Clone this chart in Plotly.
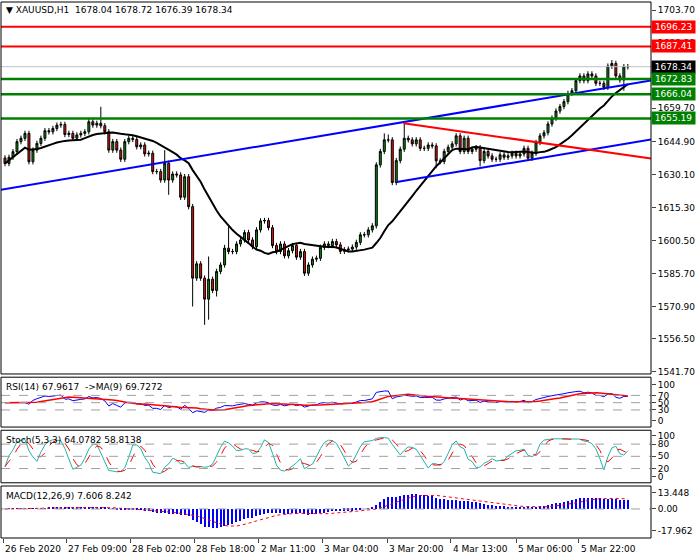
import plotly.graph_objects as go
import pandas as pd
import numpy as np

closes = [
1635.0,1637.8,1640.3,1644.8,1646.3,1648.5,1635.8,1641.0,1644.0,1646.3,
1649.7,1649.2,1650.7,1652.2,1652.5,1648.0,1648.5,1646.3,1647.8,1648.5,
1649.2,1653.7,1652.2,1653.0,1651.9,1649.2,1641.0,1644.8,1641.0,1636.9,
1644.8,1646.3,1645.8,1642.5,1643.3,1639.3,1639.6,1631.4,1631.4,1627.6,
1635.1,1627.6,1630.3,1629.9,1619.9,1629.1,1615.7,1583.7,1590.1,1583.7,
1574.3,1583.2,1578.2,1586.7,1589.6,1597.1,1595.6,1595.6,1599.0,1600.8,
1604.1,1600.8,1597.8,1605.3,1609.3,1609.5,1606.3,1598.3,1595.6,1599.0,
1593.7,1596.0,1598.3,1593.1,1595.6,1585.9,1589.6,1592.2,1592.6,1597.5,
1599.0,1598.3,
1600.1,1598.6,1595.7,1596.4,1596.7,1597.6,1599.7,1603.1,1603.1,1605.3,
1607.1,1634.4,1640.4,1645.6,1645.6,1626.5,1636.3,1641.4,1646.3,1645.6,
1643.8,1645.6,1641.8,1641.8,1643.3,1642.9,1636.2,1635.9,1640.4,1642.3,
1643.8,1647.4,1640.4,1646.3,1640.4,1641.4,1642.1,1636.3,1640.4,1638.4,
1636.9,1636.9,1638.9,1637.8,1638.4,1639.6,1638.4,1639.3,1641.8,1637.4,
1639.6,1644.4,1647.4,1648.8,1652.7,1655.3,1658.5,1660.5,1662.7,1666.4,
1667.6,1672.1,1674.2,1672.1,1675.1,1674.2,1670.9,1670.9,1669.1,1678.6,
1679.8,1674.2,1672.4,1678.3,1678.34]
first_open = 1637.5
# explicit extreme highs / lows (bar index: price)
spike_highs = {24: 1660.4, 51: 1593.4, 55: 1598.6, 56: 1606.8, 40: 1641.0,
               95: 1648.5, 96: 1648.0, 100: 1653.0, 152: 1681.3}
spike_lows = {47: 1571.0, 50: 1562.8, 51: 1565.1, 53: 1575.5, 41: 1621.0,
              44: 1618.7, 108: 1632.9, 119: 1633.7, 155: 1667.6}
wick = 1.2

levels_red = [1696.23, 1687.41]
levels_green = [1672.83, 1666.04, 1655.19]
last_price = 1678.34
blue1_x, blue1_y = [-1.25, 161.8], [1623.2, 1672.2]
blue2_x, blue2_y = [98.1, 161.8], [1626.7, 1645.8]
red_x, red_y = [99.8, 161.8], [1653.0, 1637.3]

main_ticks = [1703.70, 1688.90, 1674.10, 1659.70, 1644.90, 1630.10, 1615.30,
              1600.50, 1585.70, 1570.90, 1556.50, 1541.70]
date_labels = ["26 Feb 2020", "27 Feb 09:00", "28 Feb 02:00", "28 Feb 18:00", "2 Mar 11:00",
               "3 Mar 04:00", "3 Mar 20:00", "4 Mar 13:00", "5 Mar 06:00", "5 Mar 22:00"]
date_pos = [-0.5, 15.3, 31.4, 47.4, 63.5, 79.5, 95.8, 111.6, 128.0, 143.7]
macd_ticks = [13.448, 0.0, -17.962]

N = len(closes)
idx = list(range(N))
opens = [first_open] + closes[:-1]
highs = [spike_highs.get(i, max(o, c) + wick) for i, (o, c) in enumerate(zip(opens, closes))]
lows = [spike_lows.get(i, min(o, c) - wick) for i, (o, c) in enumerate(zip(opens, closes))]

c = pd.Series(closes)
h = pd.Series(highs); l = pd.Series(lows)
ma = c.rolling(20, min_periods=1).mean()
d = c.diff().fillna(0)
up = d.clip(lower=0).ewm(alpha=1/14).mean(); dn = (-d.clip(upper=0)).ewm(alpha=1/14).mean()
rsi = 100 - 100 / (1 + up / dn.replace(0, np.nan))
rsi = rsi.fillna(50)
rsi_ma = rsi.rolling(9, min_periods=1).mean()
ll = l.rolling(5, min_periods=1).min(); hh = h.rolling(5, min_periods=1).max()
k = (100 * (c - ll).rolling(3, min_periods=1).sum() / (hh - ll).rolling(3, min_periods=1).sum())
sig = k.rolling(3, min_periods=1).mean()
macd = c.ewm(span=12).mean() - c.ewm(span=26).mean()
macd_sig = macd.rolling(9, min_periods=1).mean()

fig = go.Figure()
fig.add_trace(go.Candlestick(x=idx, open=opens, high=highs, low=lows, close=closes,
    increasing=dict(line=dict(color='black', width=1), fillcolor='#0a8a0a'),
    decreasing=dict(line=dict(color='black', width=1), fillcolor='#e01010'),
    whiskerwidth=0, hoverinfo='skip', xaxis='x', yaxis='y'))
fig.add_trace(go.Scatter(x=idx, y=ma, mode='lines', line=dict(color='black', width=2), yaxis='y'))
for xs, ys, col in [(blue1_x, blue1_y, '#0000ff'), (blue2_x, blue2_y, '#0000ff'), (red_x, red_y, '#ff0000')]:
    fig.add_trace(go.Scatter(x=xs, y=ys, mode='lines', line=dict(color=col, width=2), yaxis='y'))
fig.add_trace(go.Scatter(x=idx, y=rsi, mode='lines', line=dict(color='#0000ff', width=1), yaxis='y2'))
fig.add_trace(go.Scatter(x=idx, y=rsi_ma, mode='lines', line=dict(color='#ff0000', width=1.5), yaxis='y2'))
fig.add_trace(go.Scatter(x=idx, y=k, mode='lines', line=dict(color='#20b2aa', width=1), yaxis='y3'))
fig.add_trace(go.Scatter(x=idx, y=sig, mode='lines', line=dict(color='#ff0000', width=1, dash='dash'), yaxis='y3'))
fig.add_trace(go.Bar(x=idx, y=macd, marker=dict(color='#0000ff', line=dict(width=0)), width=0.3, yaxis='y4'))
fig.add_trace(go.Scatter(x=idx, y=macd_sig, mode='lines', line=dict(color='#ff0000', width=1, dash='dot'), yaxis='y4'))

shapes = []
for p in levels_red:
    shapes.append(dict(type='line', xref='x domain', x0=0, x1=1, yref='y', y0=p, y1=p, line=dict(color='#ff0000', width=2)))
for p in levels_green:
    shapes.append(dict(type='line', xref='x domain', x0=0, x1=1, yref='y', y0=p, y1=p, line=dict(color='#008000', width=2.5)))
shapes.append(dict(type='line', xref='x domain', x0=0, x1=1, yref='y', y0=last_price, y1=last_price, line=dict(color='#c0c0c0', width=1)))
for ya, lv in [('y2', [30, 50, 70]), ('y3', [20, 50, 80]), ('y4', [0])]:
    for v in lv:
        shapes.append(dict(type='line', xref='x domain', x0=0, x1=1, yref=ya, y0=v, y1=v,
                           line=dict(color='#a0a0a0', width=1, dash='dash')))
doms = [[0.306, 1.0], [0.207, 0.300], [0.103, 0.201], [0.0, 0.097]]
for dm in doms:
    shapes.append(dict(type='rect', xref='paper', yref='paper', x0=0, x1=1, y0=dm[0], y1=dm[1],
                       line=dict(color='black', width=1), fillcolor='rgba(0,0,0,0)'))

ann = []
F = dict(family='DejaVu Sans', size=9, color='black')
for p, col in [(levels_red[0], '#ff0000'), (levels_red[1], '#ff0000'), (last_price, '#000000'),
               (levels_green[0], '#008000'), (levels_green[1], '#008000'), (levels_green[2], '#008000')]:
    ann.append(dict(x=1.0, xref='paper', y=p, yref='y', text=f"{p:.2f}", showarrow=False, xanchor='left',
                    bgcolor=col, font=dict(family='DejaVu Sans', size=9, color='white'), borderpad=1, width=41))
ann.append(dict(x=0.005, xref='paper', y=0.999, yref='paper', xanchor='left', yanchor='top', showarrow=False,
                text="▼ XAUUSD,H1  1678.04 1678.72 1676.39 1678.34", font=F))
for txt, dm in [("RSI(14) 67.9617  ->MA(9) 69.7272", doms[1]), ("Stoch(5,3,3) 64.0782 58.8138", doms[2]),
                ("MACD(12,26,9) 7.606 8.242", doms[3])]:
    ann.append(dict(x=0.005, xref='paper', y=dm[1] - 0.005, yref='paper', xanchor='left', yanchor='top',
                    showarrow=False, text=txt, font=F))
for t, p in zip(date_labels, date_pos):
    ann.append(dict(x=p, xref='x', y=-0.008, yref='paper', xanchor='left', yanchor='top', showarrow=False, text=t, font=F))

ax = dict(side='right', showgrid=False, zeroline=False, ticks='outside', ticklen=4, tickfont=F, anchor='x', fixedrange=True)
fig.update_layout(
    width=700, height=560, margin=dict(l=1, r=49, t=2, b=22),
    paper_bgcolor='white', plot_bgcolor='white', showlegend=False, shapes=shapes, annotations=ann,
    bargap=0,
    xaxis=dict(range=[-1, 161.8], anchor='y4', showgrid=False, zeroline=False, showticklabels=False,
               ticks='outside', ticklen=4, tickvals=date_pos, rangeslider=dict(visible=False)),
    yaxis=dict(ax, domain=doms[0], range=[1540.8, 1707.3], tickvals=main_ticks,
               ticktext=[f"{v:.2f}" for v in main_ticks]),
    yaxis2=dict(ax, domain=doms[1], range=[-17, 120], tickvals=[100, 70, 50, 30, 0]),
    yaxis3=dict(ax, domain=doms[2], range=[-15, 114], tickvals=[100, 80, 50, 20, 0]),
    yaxis4=dict(ax, domain=doms[3], range=[-24, 19], tickvals=macd_ticks,
                ticktext=[f"{v:.3f}" if v else "0.00" for v in macd_ticks]),
)
fig.write_html("out.html", config={'displayModeBar': False},
               post_script="document.body.style.margin='0';document.body.style.overflow='hidden';")
